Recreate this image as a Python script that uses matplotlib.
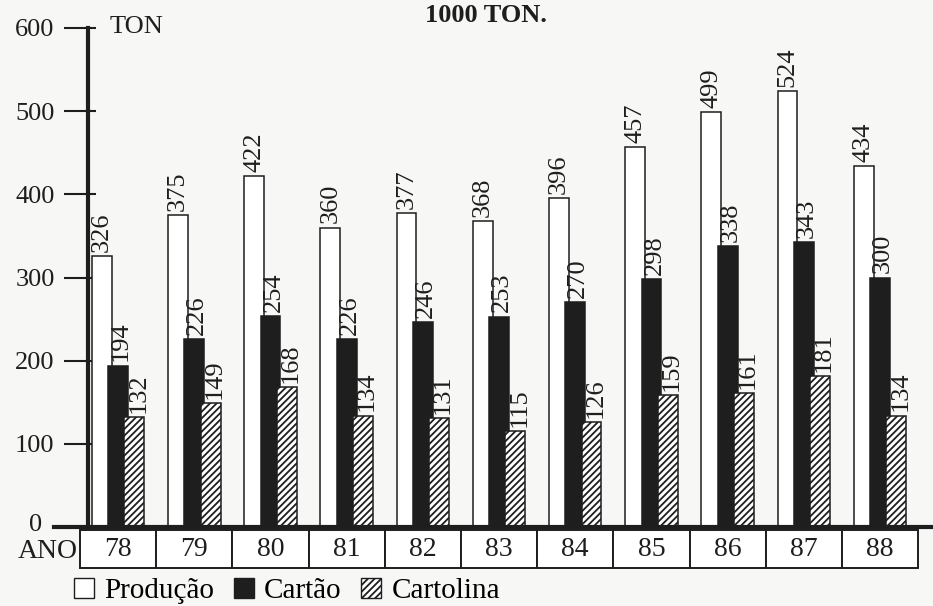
import matplotlib
matplotlib.use("Agg")
import matplotlib.pyplot as plt
import matplotlib.patches as mpatches
from matplotlib.ticker import FixedLocator
import numpy as np

plt.rcParams['font.family'] = ['Liberation Serif', 'DejaVu Serif']
plt.rcParams['hatch.linewidth'] = 1.3

anos = ['78', '79', '80', '81', '82', '83', '84', '85', '86', '87', '88']
producao = [326, 375, 422, 360, 377, 368, 396, 457, 499, 524, 434]
cartao = [194, 226, 254, 226, 246, 253, 270, 298, 338, 343, 300]
cartolina = [132, 149, 168, 134, 131, 115, 126, 159, 161, 181, 134]
yticks = [100, 200, 300, 400, 500, 600]

ink = '#1e1e1e'
bg = '#f7f7f5'

W, H = 933, 606
fig = plt.figure(figsize=(W / 100, H / 100), dpi=100, facecolor=bg)
ax = fig.add_axes([88 / W, (H - 527) / H, (W - 88) / W, (527 - 28) / H])
ax.set_facecolor(bg)

x = np.arange(len(anos))
bw = 0.26
off = 0.215
ax.bar(x - off, producao, bw, color='white', edgecolor=ink, linewidth=1.1, zorder=2)
ax.bar(x, cartao, bw, color=ink, edgecolor=ink, linewidth=1.1, zorder=3)
ax.bar(x + off, cartolina, bw, color='white', edgecolor=ink, hatch='/////',
       linewidth=1.1, zorder=4)

for xs, vals in ((x - off, producao), (x + 0.04, cartao), (x + off + 0.05, cartolina)):
    for xi, v in zip(xs, vals):
        ax.text(xi, v + 5, str(v), rotation=90, ha='center', va='bottom',
                fontsize=19, color=ink, zorder=5)

ax.set_xlim(-0.394, (W - 118) / 76.2)
ax.set_ylim(0, 600)

for s in ('top', 'right', 'bottom'):
    ax.spines[s].set_visible(False)
ax.spines['left'].set_linewidth(3)
ax.spines['left'].set_color(ink)

ax.set_xticks([])
ax.yaxis.set_major_locator(FixedLocator(yticks))
ax.yaxis.set_minor_locator(FixedLocator(yticks))
ax.yaxis.remove_overlapping_locs = False
ax.tick_params(axis='y', which='major', direction='out', length=17, width=1.5,
               color=ink, labelsize=19, labelcolor=ink, pad=7)
ax.tick_params(axis='y', which='minor', direction='in', length=6, width=1.5, color=ink)
ax.set_yticklabels([str(t) for t in yticks])

# baseline extending left of the axis
ax.plot([-0.04, 1.0], [0, 0], transform=ax.get_yaxis_transform(), color=ink,
        linewidth=3, clip_on=False, zorder=6)
ax.text(-52 / (W - 88), 3, '0', transform=ax.get_yaxis_transform(), ha='center',
        va='center', fontsize=19, color=ink)

# year row
for xi, a in zip(x, anos):
    ax.add_patch(mpatches.Rectangle((xi - 0.5, -49), 1.0, 45, facecolor='white',
                                    edgecolor=ink, linewidth=1.4, clip_on=False))
    ax.text(xi, -27, a, ha='center', va='center', fontsize=20, color=ink, clip_on=False)
ax.text(-0.53, -30, 'ANO', ha='right', va='center', fontsize=20, color=ink)

fig.text(110 / W, 1 - 27 / H, 'TON', ha='left', va='center', fontsize=19, color=ink)
fig.text(486 / W, 1 - 15 / H, '1000 TON.', ha='center', va='center', fontsize=19,
         fontweight='bold', color=ink)

handles = [
    mpatches.Patch(facecolor='white', edgecolor=ink, linewidth=1.0, label='Produção'),
    mpatches.Patch(facecolor=ink, edgecolor=ink, linewidth=1.0, label='Cartão'),
    mpatches.Patch(facecolor='white', edgecolor=ink, hatch='/////', linewidth=1.0,
                   label='Cartolina'),
]
fig.legend(handles=handles, loc='center left', bbox_to_anchor=(74 / W, 15 / H),
           ncol=3, frameon=False, fontsize=21, handlelength=0.7, handleheight=0.7,
           handletextpad=0.35, columnspacing=0.65, borderpad=0, borderaxespad=0)

fig.savefig('out.png', dpi=100, facecolor=bg)
